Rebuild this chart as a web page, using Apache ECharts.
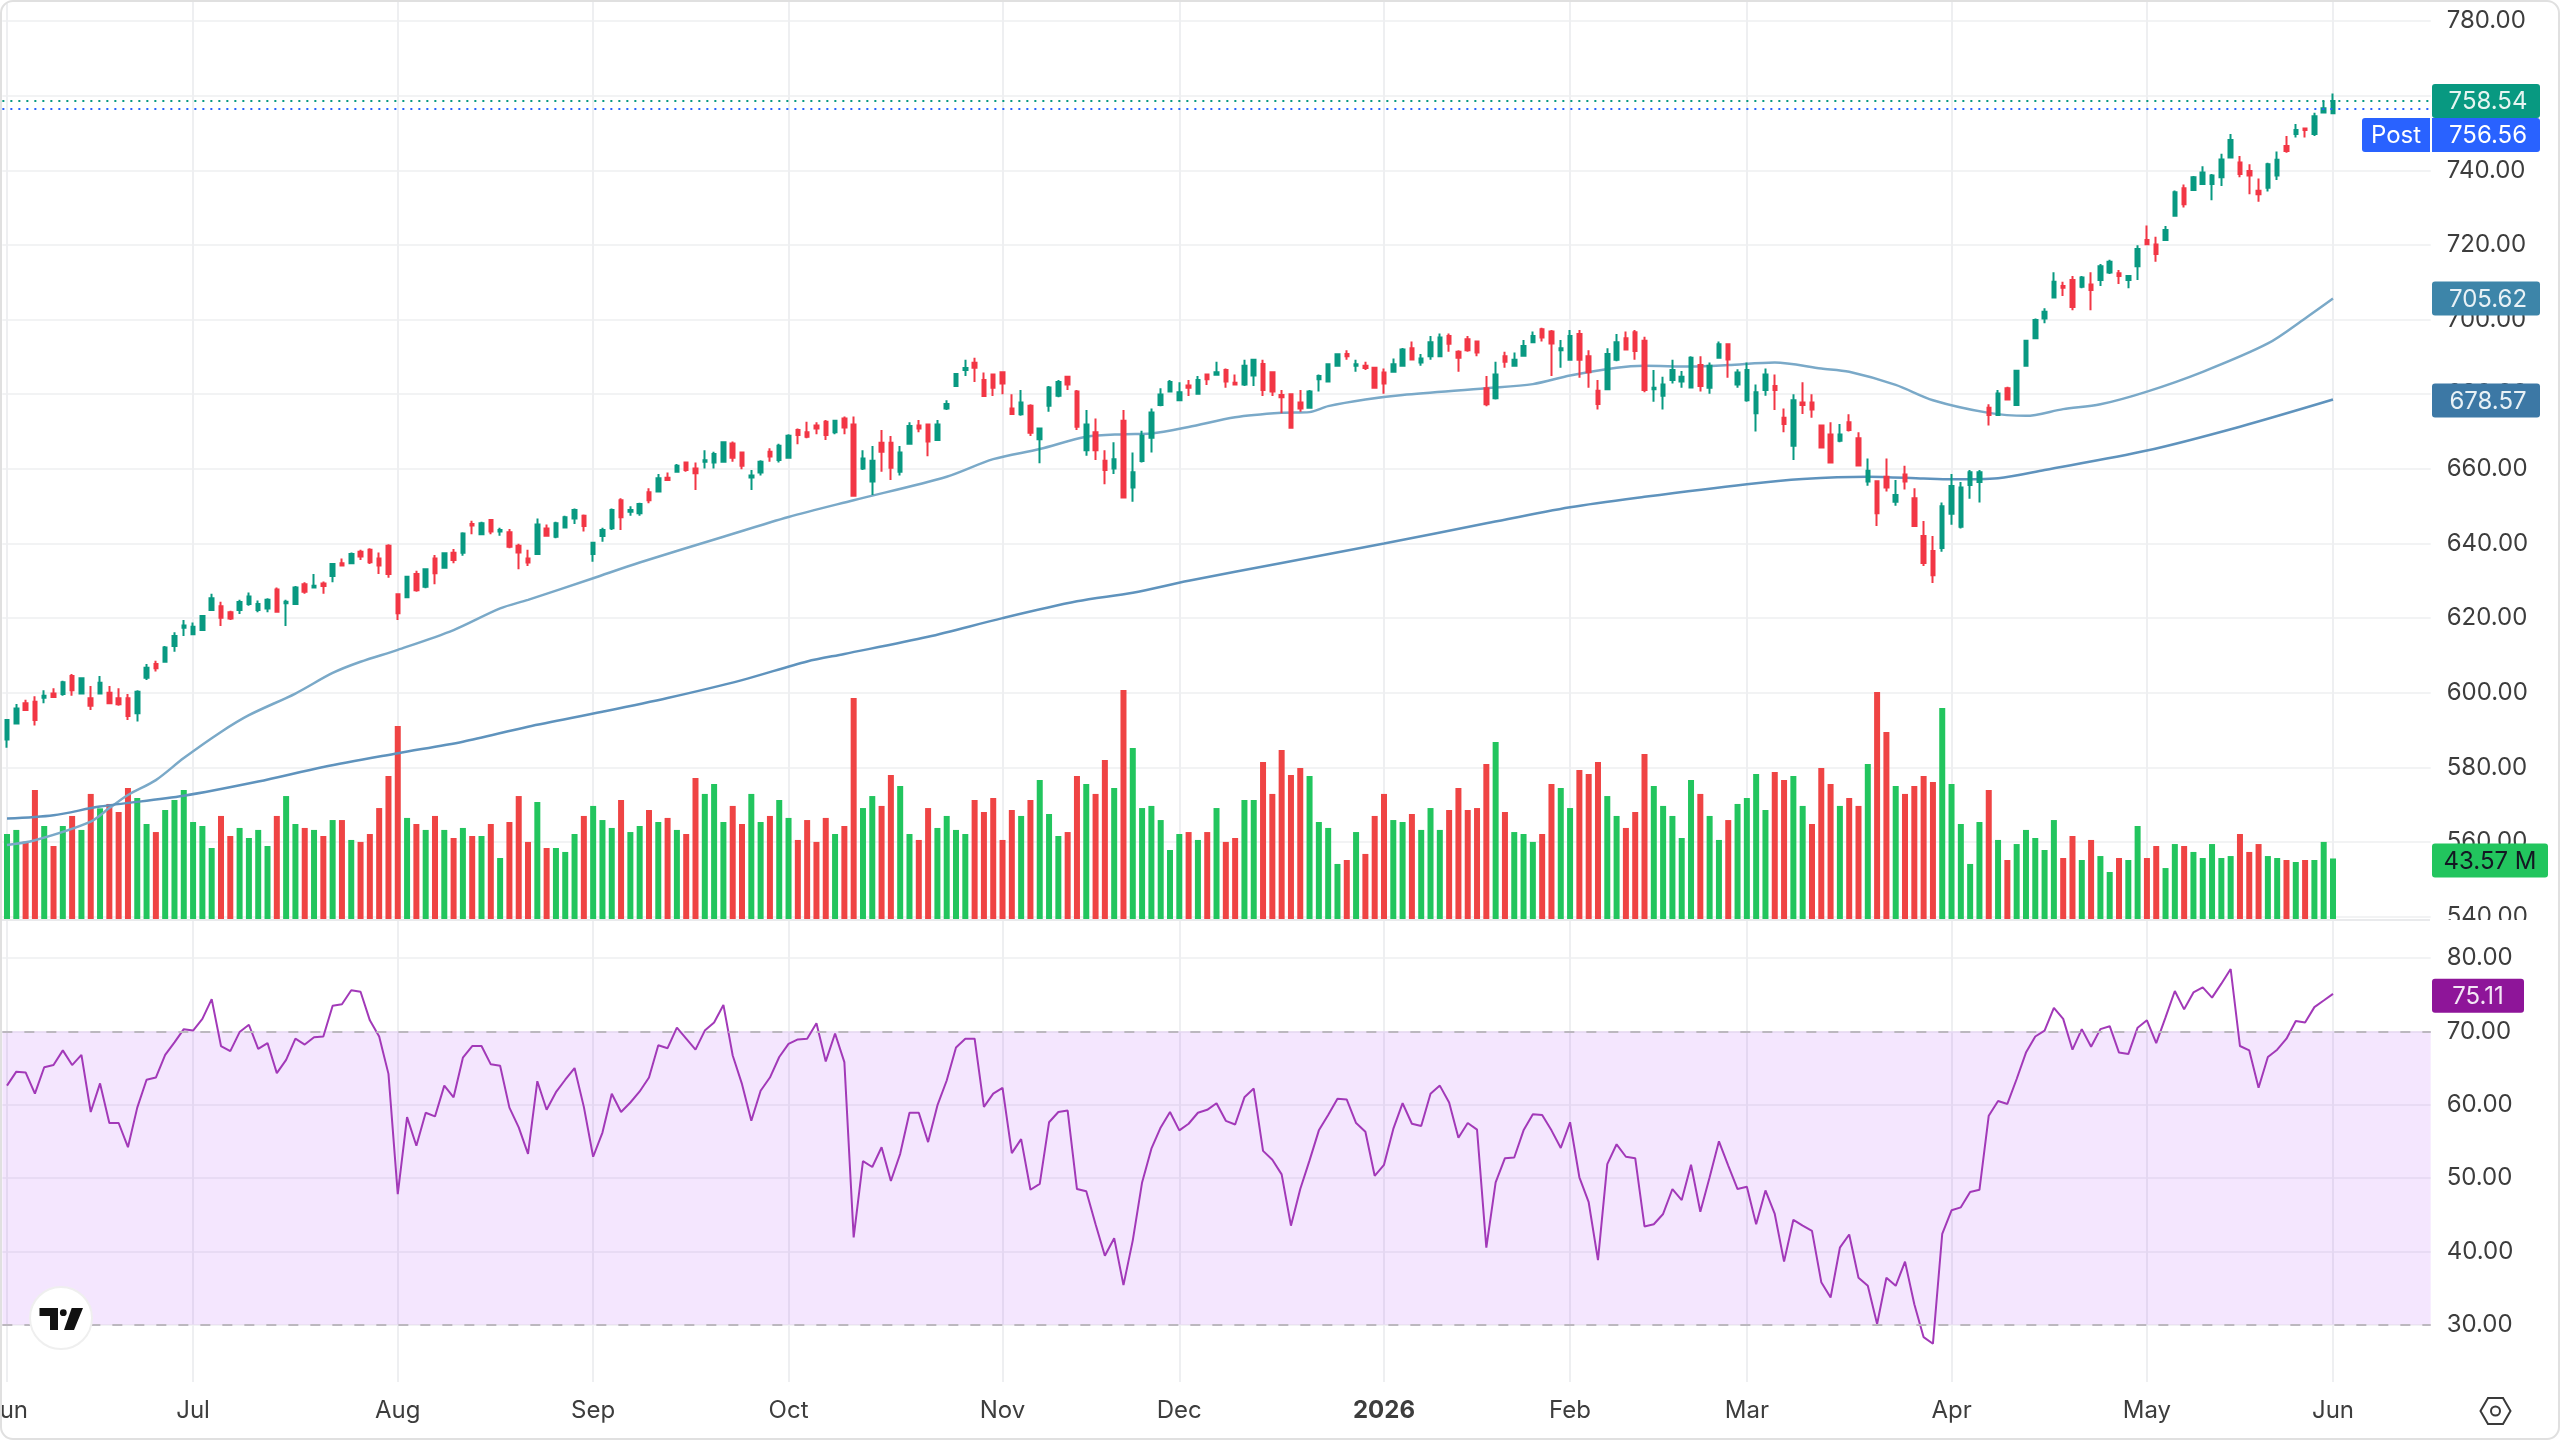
<!doctype html>
<html>
<head>
<meta charset="utf-8">
<style>
html,body{margin:0;padding:0;background:#fff}
#chart{width:2560px;height:1440px}
</style>
</head>
<body>
<div id="chart"></div>
<script src="https://cdn.jsdelivr.net/npm/echarts@6/dist/echarts.min.js"></script>
<script>
// Daily bars as [open, close, low, high], one small list per calendar month.
const barsJun25 = [[587.5,592.7,585.3,592.7],[591.8,595.8,591.8,597.0],[597.2,595.4,595.4,598.1],[597.6,592.7,591.2,599.1],[598.7,599.2,597.2,600.7],[599.8,598.9,598.7,601.2],[599.7,602.8,599.2,603.2],[604.5,600.7,599.2,605.0],[599.8,603.9,599.8,603.9],[598.5,596.5,595.4,601.8],[599.8,602.7,599.7,604.5],[600.0,597.2,597.0,601.8],[598.5,596.9,596.5,601.2],[598.5,593.8,592.7,599.7],[594.5,600.3,592.3,600.7],[604.0,606.7,603.4,607.7],[607.7,606.6,605.7,608.6],[608.3,612.1,608.3,612.5],[612.5,615.2,611.0,616.2],[617.4,618.0,615.2,619.5]];
const barsJul25 = [[615.7,617.7,615.7,618.8],[616.8,620.6,616.8,620.6],[622.2,625.3,622.2,626.5],[623.2,620.1,617.9,624.4],[621.6,619.9,619.5,622.0],[622.2,624.3,621.1,624.9],[623.8,625.8,623.3,626.9],[622.2,623.8,621.6,624.7],[622.6,624.9,621.6,625.3],[627.7,621.7,621.7,628.2],[624.0,624.4,617.9,624.9],[623.8,628.2,623.8,628.6],[629.1,627.1,626.5,629.6],[628.2,628.7,628.2,631.8],[629.3,628.6,626.5,629.8],[631.3,634.5,629.6,634.5],[634.7,634.1,634.1,636.0],[634.7,637.2,634.7,637.6],[637.8,636.5,635.6,638.3],[638.3,635.0,634.5,638.7],[636.0,634.1,631.8,637.6],[639.4,631.8,630.8,639.8]];
const barsAug25 = [[626.4,621.3,619.5,626.4],[625.6,631.1,625.6,631.1],[631.8,627.5,627.1,632.7],[628.4,633.1,628.0,633.3],[636.0,632.0,629.1,636.9],[633.5,637.4,633.5,637.6],[637.5,635.6,634.7,638.5],[637.5,642.7,636.7,643.0],[645.2,644.8,642.5,646.1],[642.5,645.4,642.5,645.8],[646.3,643.2,642.5,646.3],[643.2,643.6,642.1,644.2],[643.0,639.1,638.7,643.9],[639.4,637.6,633.1,639.9],[636.0,634.9,634.0,638.3],[637.2,645.1,637.2,646.7],[644.0,642.1,642.1,645.1],[641.8,645.4,641.4,645.8],[644.3,647.0,644.3,647.4],[646.7,649.0,645.2,649.4],[647.4,644.7,643.2,647.8]];
const barsSep25 = [[637.2,640.2,635.1,640.2],[642.0,643.6,640.5,644.2],[644.1,649.0,643.6,649.4],[651.6,647.0,643.6,652.1],[648.5,649.0,647.4,650.0],[648.1,650.6,647.4,650.9],[653.7,651.6,650.8,654.8],[653.9,657.5,653.9,658.6],[657.6,657.0,657.0,659.0],[659.2,660.8,659.2,661.3],[661.7,659.7,659.2,661.7],[660.1,658.8,654.3,661.7],[661.9,662.3,660.1,665.0],[661.7,664.0,660.1,664.6],[661.9,667.1,661.9,667.1],[666.8,663.0,661.9,667.3],[664.4,660.8,659.9,664.4],[657.7,658.2,654.3,659.7],[659.0,661.9,658.2,662.3],[664.6,663.3,661.9,665.5],[662.4,666.2,661.7,666.7]];
const barsOct25 = [[663.0,668.9,663.0,669.3],[670.4,669.1,666.6,670.8],[669.8,668.6,668.2,672.6],[671.6,670.8,669.3,672.5],[672.6,669.1,667.7,673.1],[669.8,672.9,669.3,672.9],[673.5,671.1,669.3,674.0],[671.9,652.8,652.8,674.0],[660.1,662.8,659.7,665.0],[656.6,662.2,653.0,666.1],[667.0,664.6,659.2,670.4],[667.0,660.3,657.0,668.8],[659.2,664.4,658.2,666.1],[666.7,671.5,666.7,672.5],[671.6,670.8,669.8,673.1],[671.9,667.3,663.4,671.9],[667.7,671.9,667.7,673.1],[676.2,677.4,675.8,678.4],[682.2,685.4,682.2,685.4],[686.5,687.0,684.9,689.2],[688.4,687.1,683.3,689.8],[683.8,679.5,679.5,685.8],[685.3,681.7,679.5,685.3]];
const barsNov25 = [[685.9,682.9,680.0,685.9],[676.2,674.7,674.7,680.0],[674.6,677.8,674.2,681.1],[676.9,669.7,668.8,677.3],[667.9,670.8,661.5,670.8],[676.9,681.8,675.3,682.2],[679.6,683.3,679.2,683.8],[684.7,682.6,681.1,684.7],[680.7,671.3,670.4,681.1],[665.0,671.9,663.5,675.8],[669.8,665.0,662.4,673.5],[662.2,659.7,655.9,665.0],[660.1,662.6,658.6,667.1],[672.9,652.3,652.3,675.8],[655.0,659.1,651.2,664.4],[662.1,668.9,661.7,670.2],[668.3,675.1,664.4,676.2],[677.1,679.9,676.8,681.6],[680.7,683.3,680.7,683.8]];
const barsDec25 = [[678.4,680.5,678.4,683.2],[682.3,681.7,679.5,683.8],[680.1,683.8,680.1,684.9],[685.3,684.0,682.5,685.3],[685.2,685.9,685.0,688.7],[686.5,683.4,681.7,686.9],[683.1,682.6,682.6,685.3],[682.6,687.6,682.2,689.2],[685.0,689.2,682.2,689.2],[688.1,681.1,679.5,689.2],[685.9,680.7,679.5,685.9],[679.8,679.2,674.9,681.1],[680.0,671.0,671.0,680.0],[677.8,676.2,675.3,681.1],[676.4,680.7,676.4,681.1],[684.0,684.9,680.7,685.3],[683.4,688.0,683.4,688.0],[687.6,690.7,687.6,690.7],[690.8,690.2,689.2,691.8],[687.6,688.0,686.0,689.2],[687.6,687.0,686.5,688.7],[687.1,681.7,681.7,687.1]];
const barsJan26 = [[685.8,682.9,680.1,686.9],[686.0,688.0,686.0,689.6],[687.6,692.0,687.6,692.4],[692.3,689.3,689.3,694.1],[688.5,689.6,687.6,690.8],[690.2,693.9,689.2,695.6],[690.2,695.2,690.2,696.3],[695.6,693.5,691.4,696.3],[691.4,689.8,686.0,691.8],[694.7,691.8,691.4,695.6],[694.1,691.2,690.2,694.1],[681.6,677.3,676.8,684.9],[678.9,685.3,678.6,688.7],[690.2,688.7,687.1,691.4],[687.6,689.2,687.6,691.2],[690.3,692.9,690.3,694.5],[693.9,695.6,693.9,696.8],[697.4,695.2,694.1,697.8],[696.8,693.6,684.9,697.2],[691.8,692.3,687.1,694.5]];
const barsFeb26 = [[689.2,695.6,689.2,697.2],[696.1,689.2,684.4,697.2],[690.2,685.9,681.7,691.8],[680.9,677.4,675.9,683.8],[681.3,690.8,681.3,692.3],[689.2,693.9,688.8,696.1],[695.0,692.0,692.0,696.8],[696.6,691.6,689.2,697.2],[694.3,681.1,680.5,695.4],[681.3,681.7,678.0,686.5],[679.6,682.6,675.9,684.7],[683.8,686.5,682.9,689.2],[683.4,684.7,681.7,686.2],[681.8,689.8,681.8,690.2],[687.8,682.2,680.7,690.2],[681.7,687.6,680.1,688.5],[689.8,693.4,689.8,694.1],[693.4,689.3,684.4,693.4],[682.6,685.8,681.7,686.7]];
const barsMar26 = [[678.4,686.5,678.0,688.5],[674.9,680.5,670.0,682.6],[681.1,685.3,679.6,686.9],[682.2,681.1,675.8,685.3],[673.7,672.0,669.8,676.2],[666.2,678.4,662.4,680.0],[677.8,677.1,674.7,683.2],[677.8,675.9,673.7,680.0],[671.6,665.7,665.7,671.6],[669.2,661.7,661.5,672.5],[667.5,669.2,667.1,672.0],[672.5,670.4,670.0,674.6],[668.2,660.9,660.9,669.8],[656.6,659.5,655.5,662.8],[656.7,648.1,644.7,656.7],[657.9,655.0,653.9,662.8],[651.2,653.0,650.1,657.0],[658.5,656.6,654.5,660.8],[652.1,644.7,644.7,654.8],[642.0,634.8,634.0,646.0],[638.0,631.5,629.4,642.0],[638.8,650.0,637.8,651.0]];
const barsApr26 = [[648.0,655.4,645.0,658.6],[644.5,655.0,644.0,656.5],[655.7,659.1,652.0,659.7],[656.5,659.1,651.0,659.7],[676.4,674.4,671.6,677.3],[674.4,680.2,674.4,681.1],[681.6,678.6,678.3,682.0],[677.1,686.3,677.1,686.3],[687.6,694.3,687.6,694.3],[695.0,699.9,694.7,700.3],[700.3,702.1,699.0,703.0],[705.9,710.1,705.9,712.7],[709.0,708.5,706.3,710.1],[710.6,703.4,702.5,711.7],[708.8,711.3,708.4,711.7],[709.4,707.9,702.5,712.7],[710.6,714.3,709.0,714.9],[712.6,715.5,712.2,716.0],[712.4,711.7,709.5,713.3],[710.6,711.7,708.4,711.9],[714.3,718.9,710.6,719.9]];
const barsMay26 = [[721.3,720.2,720.0,725.2],[720.1,717.6,715.5,722.2],[721.3,724.0,721.3,725.1],[727.8,734.1,727.8,734.6],[735.2,730.9,730.0,736.2],[734.7,738.1,734.7,738.5],[736.3,739.4,736.3,741.1],[736.3,738.6,732.0,739.0],[738.1,742.9,735.8,744.4],[743.4,748.1,743.4,749.7],[742.1,739.0,738.1,743.8],[739.8,738.6,733.6,741.6],[734.5,733.6,731.6,737.8],[735.3,741.6,734.3,742.0],[738.6,742.8,737.4,745.0],[746.5,745.2,744.7,749.2],[749.7,750.8,748.8,752.4],[751.2,750.8,748.8,751.2],[749.7,754.5,749.2,755.4],[755.5,756.6,755.2,758.6]];
const barsJun26 = [[755.3,758.54,755.3,760.6]];

// Volume in millions of shares, bar by bar.
const volumeM = [
60.9,63.8,55.5,92.1,66.6,52.4,66.6,73.7,63.8,89.3,79.1,82.2,76.5,93.5,86.4,68,62.3,77.9,85,92.1,
69.4,66.6,51,73.7,59.5,65.2,58.1,63.8,52.4,73.7,87.8,68,65.2,63.8,59.5,70.8,70.8,56.7,55.3,60.9,79.3,102,
137.4,72.3,68,63.8,73.7,63.8,58.1,65.2,59.5,59.5,68,43.9,69.4,87.8,55.3,83.6,51,51,48.2,60.9,73.7,
80.8,70.8,65.2,85,62.3,66.6,77.9,69.4,72.3,63.8,60.9,100.6,89.3,96.3,69.4,80.8,68,89.3,69.4,73.7,85,
72.3,56.7,70.8,55.3,72.3,60.9,66.6,157.3,79.3,87.8,80.8,102.7,94.9,60.9,56.7,79.3,65.2,73.7,63.8,60.9,85,76.5,86.4,
56.7,77.9,73.7,85,99.2,75.1,59.5,62.3,102,96.3,89.3,113.3,93.5,162.9,121.8,79.3,80.8,70.8,49.6,
60.9,62.3,56.7,62.3,79.3,55.3,58.1,85,85,111.9,89.3,120.4,102.7,107.7,102,69.4,65.2,39.7,42.5,62.3,46.8,73.7,
89.3,70.8,69.4,75.1,63.8,79.3,63.8,77.9,93.5,77.9,79.3,110.5,126.1,76.5,62.3,60.9,55.3,60.9,96.3,93.5,
79.3,106.3,103.4,111.9,87.8,73.7,65.2,76.5,117.6,94.9,80.8,73.7,58.1,99.2,89.3,73.7,56.7,70.8,82.2,
86.4,103.4,77.9,104.8,99.2,102,80.8,68,107.7,96.3,80.8,86.4,80.8,110.5,161.5,133.2,94.9,89.3,94.9,102,97.8,150.2,
96.3,68,39.7,69.4,92.1,56.7,42.5,53.8,63.8,58.1,49.6,70.8,43.9,59.5,42.5,56.7,45.3,34,43.9,42.5,66.6,
43.9,52.4,36.8,53.8,52.4,48.2,43.9,53.8,43.9,45.3,60.9,48.2,53.8,45.3,43.9,42.5,41.1,42.5,42.5,55.3,
43.57];
// Bars whose volume column is coloured as an up day although the candle closed a touch lower.
const volumeUpBars = [193];

// RSI(14) close, bar by bar.
const rsiValues = [
62.6,64.5,64.4,61.5,65.1,65.4,67.4,65.4,66.8,59.0,62.9,57.5,57.5,54.2,59.6,63.4,63.7,66.8,68.5,70.3,
70.1,71.7,74.4,68.0,67.3,69.9,70.9,67.6,68.4,64.3,66.1,69.0,68.2,69.2,69.3,73.5,73.7,75.6,75.4,71.5,
69.3,64.2,47.8,58.3,54.4,58.9,58.4,62.6,61.0,66.4,68.0,68.0,65.5,65.3,59.6,56.9,53.3,63.2,59.3,61.7,
63.4,65.0,59.7,52.9,56.2,61.5,59.0,60.3,61.8,63.7,68.1,67.7,70.5,69.0,67.5,70.1,71.2,73.6,66.7,62.8,
57.8,61.9,63.7,66.5,68.3,68.9,69.0,71.1,65.9,69.7,65.8,41.9,52.3,51.5,54.2,49.6,53.3,58.9,58.9,54.9,
59.9,63.3,67.8,69.0,69.0,59.7,61.5,62.3,53.4,55.3,48.4,49.2,57.6,59.0,59.2,48.5,48.2,43.7,39.4,41.8,
35.4,41.5,49.4,54.0,56.9,59.0,56.5,57.4,58.9,59.3,60.2,57.8,57.3,61.0,62.2,53.7,52.5,50.5,43.5,48.5,
52.4,56.5,58.6,60.8,60.7,57.5,56.3,50.3,51.8,56.7,60.2,57.4,57.1,61.5,62.6,60.3,55.5,57.5,56.6,40.5,
49.4,52.7,52.8,56.5,58.7,58.6,56.5,54.1,57.6,50.1,46.7,38.8,51.9,54.6,52.9,52.7,43.4,43.7,45.1,48.5,
47.0,51.8,45.4,50.1,55.0,51.7,48.5,48.8,43.7,48.3,45.1,38.6,44.3,43.5,42.8,35.8,33.7,40.5,42.3,36.4,
35.3,30.1,36.4,35.3,38.6,32.8,28.3,27.4,42.4,45.6,46.0,48.1,48.4,58.5,60.5,60.1,63.5,67.1,69.3,70.1,
73.2,71.7,67.5,70.3,67.9,70.3,70.7,67.1,66.9,70.5,71.5,68.4,71.9,75.5,73.0,75.3,76.0,74.6,76.5,78.5,
68.0,67.4,62.3,66.5,67.5,69.0,71.4,71.2,73.3,74.2,75.11];

// Moving averages, read at the listed bars.
const fastMaBars = [0,3,9,11,13,16,19,23,26,31,35,38,42,48,53,56,63,68,77,84,91,101,106,111,116,120,123,127,132,137,140,142,146,150,159,164,168,173,176,181,185,190,195,198,203,207,213,217,221,225,230,236,243,247,250];
const fastMaValues = [559.2,560.5,565.5,569.1,572.6,576.6,582.5,589.5,594.0,599.8,605.3,608.3,611.5,616.8,622.6,624.9,630.7,634.9,641.8,647.1,651.6,657.9,662.6,665.3,668.6,669.3,669.5,671.2,673.8,675.0,675.2,676.8,678.6,679.8,681.6,682.7,685.0,687.1,687.6,687.4,687.8,688.5,686.9,686.0,682.5,678.4,675.0,674.2,676.0,677.3,680.7,686.0,693.6,700.3,705.62];
const slowMaBars = [0,5,10,19,27,34,42,49,56,64,71,79,86,90,99,107,115,121,127,137,148,159,168,176,187,193,200,206,209,214,219,230,240,250];
const slowMaValues = [566.3,567.2,569.5,572.4,576.2,580.1,583.8,586.9,590.9,594.9,598.6,603.4,608.4,610.4,615.0,620.0,624.5,626.8,630.0,634.8,640.0,645.4,649.7,652.5,655.9,657.3,657.9,657.4,657.2,657.5,659.7,664.9,671.3,678.57];

// Time-axis ticks: the bar each month starts on and the text shown for it.
const monthBars = [0,20,42,63,84,107,126,148,168,187,209,230,250];
const monthLabels = ['Jun','Jul','Aug','Sep','Oct','Nov','Dec','2026','Feb','Mar','Apr','May','Jun'];

const lastClose = 758.54, postPrice = 756.56, fastMaLast = 705.62, slowMaLast = 678.57, lastRsi = 75.11, lastVolumeM = 43.57;

const bars = [].concat(barsJun25,barsJul25,barsAug25,barsSep25,barsOct25,barsNov25,barsDec25,barsJan26,barsFeb26,barsMar26,barsApr26,barsMay26,barsJun26);
const BAR_COUNT = bars.length;
const SLOT_COUNT = BAR_COUNT + 10;           // empty room to the right of the last bar
const slots = Array.from({length: SLOT_COUNT}, (_, i) => String(i));
const timeSlots = Array.from({length: BAR_COUNT}, (_, i) => {
  const k = monthBars.indexOf(i);
  return k >= 0 ? monthLabels[k] : '';
});

const UP = '#089981', DOWN = '#f23645';
const VOL_UP = '#22c55e', VOL_DOWN = '#ef4444';
const TEXT = '#3d3d3d', GRIDLINE = '#f2f3f4';
const FONT = 'Inter, "Noto Sans", sans-serif';
const LABEL_SIZE = 24;

const step = 9.304;
const plotLeft = 2.35, plotWidth = SLOT_COUNT * step;
const isMonthStart = i => monthBars.indexOf(i) >= 0;
const pairs = (xs, ys) => xs.map((x, i) => [x, ys[i]]);
const hiddenAxis = (gridIndex) => ({type:'category', gridIndex, data:slots, show:false});
const gridLine = {show:true, lineStyle:{color:GRIDLINE, width:2}};
const priceLabel = {color:TEXT, fontSize:LABEL_SIZE, fontFamily:FONT, margin:16, formatter:v => v.toFixed(2)};
const isVolumeUp = i => volumeUpBars.indexOf(i) >= 0 || bars[i][1] >= bars[i][0];

const chart = echarts.init(document.getElementById('chart'), null, {renderer:'canvas'});
chart.setOption({
  animation:false,
  backgroundColor:'#ffffff',
  // labels may run past the canvas edge: "Jun" is cut off at the left, as on the live chart
  grid:[
    {left:plotLeft, width:plotWidth, top:21,  height:895.7, outerBoundsMode:'none'},
    {left:plotLeft, width:plotWidth, top:680, height:240, outerBoundsMode:'none'},
    {left:plotLeft, width:plotWidth, top:958, height:366.7, outerBoundsMode:'none'},
    {left:7, width:(BAR_COUNT-1)*step, top:2, height:1380, outerBoundsMode:'none'}
  ],
  xAxis:[
    hiddenAxis(0), hiddenAxis(1), hiddenAxis(2),
    {
      type:'category', gridIndex:3, data:timeSlots, boundaryGap:false,
      axisLine:{show:false}, axisTick:{show:false},
      splitLine:{show:true, interval:isMonthStart, lineStyle:{color:'#eeeff1', width:2}},
      axisLabel:{
        interval:isMonthStart, margin:17, color:TEXT, fontSize:LABEL_SIZE, fontFamily:FONT,
        formatter:v => v === '2026' ? '{year|2026}' : v,
        rich:{year:{fontWeight:'bold', fontSize:LABEL_SIZE, color:TEXT, fontFamily:FONT}}
      }
    }
  ],
  yAxis:[
    {type:'value', gridIndex:0, position:'right', min:540, max:780, interval:20,
     axisLine:{show:false}, axisTick:{show:false}, splitLine:gridLine, axisLabel:priceLabel},
    {type:'value', gridIndex:1, min:0, max:170, show:false},
    {type:'value', gridIndex:2, position:'right', min:30, max:80, interval:10,
     axisLine:{show:false}, axisTick:{show:false}, splitLine:gridLine, axisLabel:priceLabel},
    {type:'value', gridIndex:3, show:false}
  ],
  series:[
    {
      name:'Volume', type:'bar', xAxisIndex:1, yAxisIndex:1, barWidth:6, z:2,
      data:volumeM.map((v, i) => ({
        value:v,
        itemStyle:{color: isVolumeUp(i) ? VOL_UP : VOL_DOWN}
      }))
    },
    {
      name:'Fast MA', type:'line', xAxisIndex:0, yAxisIndex:0, z:3,
      data:pairs(fastMaBars, fastMaValues), showSymbol:false, smooth:0.3,
      lineStyle:{color:'#7aa9c8', width:2.5}
    },
    {
      name:'Slow MA', type:'line', xAxisIndex:0, yAxisIndex:0, z:3,
      data:pairs(slowMaBars, slowMaValues), showSymbol:false, smooth:0.3,
      lineStyle:{color:'#5f93bd', width:2.5}
    },
    {
      name:'Price', type:'candlestick', xAxisIndex:0, yAxisIndex:0, z:4, barWidth:4,
      data:bars,
      itemStyle:{color:UP, color0:DOWN, borderColor:UP, borderColor0:DOWN, borderWidth:2},
      markLine:{
        silent:true, symbol:['none','none'], label:{show:false}, animation:false,
        data:[
          {yAxis:lastClose, lineStyle:{color:UP, type:[2,6], width:2}},
          {yAxis:postPrice, lineStyle:{color:'#2962ff', type:[2,6], width:2}}
        ]
      }
    },
    {
      name:'RSI', type:'line', xAxisIndex:2, yAxisIndex:2, z:4, clip:false,
      data:rsiValues, showSymbol:false,
      lineStyle:{color:'#a239b8', width:2},
      markArea:{
        silent:true,
        itemStyle:{color:'rgba(145,5,245,0.1)'},
        data:[[{yAxis:70},{yAxis:30}]]
      },
      markLine:{
        silent:true, symbol:['none','none'], label:{show:false}, animation:false,
        lineStyle:{color:'#bcb8bf', type:[10,12], width:2},
        data:[{yAxis:70},{yAxis:30}]
      }
    }
  ]
});

// Value tags on the right-hand scale, positioned from the axes themselves.
const priceY = v => chart.convertToPixel({yAxisIndex:0}, v);
const rsiY = v => chart.convertToPixel({yAxisIndex:2}, v);
const volY = v => chart.convertToPixel({yAxisIndex:1}, v);

function tag(text, cy, x, w, fill, textColor, textX, r) {
  return [
    {type:'rect', z:100, shape:{x, y:cy-17, width:w, height:34, r:r===undefined?3:r}, style:{fill}},
    {type:'text', z:101, style:{text, x:textX===undefined?2488:textX, y:cy+1, align:'center', verticalAlign:'middle',
      fontSize:LABEL_SIZE, fontFamily:FONT, fill:textColor}}
  ];
}

const closeY = priceY(lastClose);
const postY = closeY + 34;
chart.setOption({
  graphic:{elements:[].concat(
    // the price scale stops where the RSI pane begins
    {type:'rect', z:90, shape:{x:2431, y:920, width:120, height:25}, style:{fill:'#ffffff'}},
    {type:'line', z:5, shape:{x1:2, y1:920, x2:2430, y2:920}, style:{stroke:'#e9eaec', lineWidth:2}},
    tag(lastClose.toFixed(2), closeY, 2432, 108, UP, '#e6f5f1'),
    tag(postPrice.toFixed(2), postY, 2432, 108, '#2962ff', '#ffffff', undefined, [0,3,3,0]),
    tag('Post', postY, 2362, 68, '#2962ff', '#ffffff', 2396, [3,0,0,3]),
    tag(fastMaLast.toFixed(2), priceY(fastMaLast), 2432, 108, '#3d85a9', '#e8f1f6'),
    tag(slowMaLast.toFixed(2), priceY(slowMaLast)+1, 2432, 108, '#3c78a5', '#e8f1f6'),
    tag('43.57 M', volY(lastVolumeM)+2, 2432, 116, VOL_UP, '#131722', 2490),
    tag(lastRsi.toFixed(2), rsiY(lastRsi)+2, 2432, 92, '#8e1599', '#f3e6f5', 2478),
    // brand badge
    {type:'circle', z:60, shape:{cx:61, cy:1318, r:31}, style:{fill:'#ffffff', stroke:'#efefef', lineWidth:2}},
    {type:'polygon', z:61, shape:{points:[[39.5,1308],[58,1308],[58,1330],[50,1330],[50,1316],[39.5,1316]]}, style:{fill:'#111111'}},
    {type:'circle', z:61, shape:{cx:63.3, cy:1312.7, r:3.4}, style:{fill:'#111111'}},
    {type:'polygon', z:61, shape:{points:[[71.7,1308],[83,1308],[74,1330],[64,1330]]}, style:{fill:'#111111'}},
    // settings button
    {type:'polygon', z:61, shape:{points:[[2480.5,1411],[2488,1398],[2503,1398],[2510.5,1411],[2503,1424],[2488,1424]]}, style:{fill:'none', stroke:'#3a3a3a', lineWidth:2}},
    {type:'circle', z:61, shape:{cx:2495.5, cy:1411, r:4.5}, style:{fill:'none', stroke:'#3a3a3a', lineWidth:2}},
    // outer frame
    {type:'rect', z:110, shape:{x:1, y:1, width:2558, height:1438, r:12}, style:{fill:'none', stroke:'#e0e0e0', lineWidth:2}}
  )}
});
</script>
</body>
</html>
